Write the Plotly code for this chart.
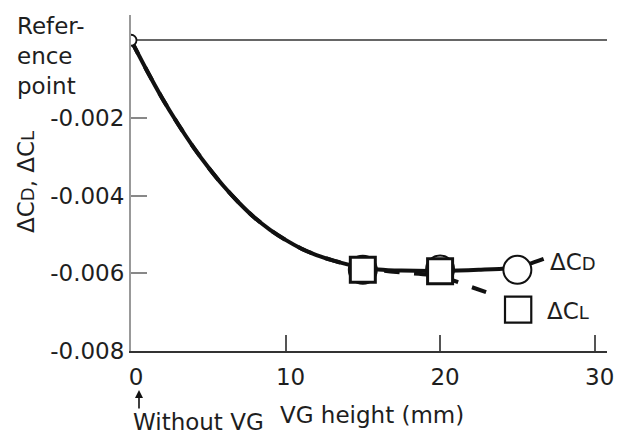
import plotly.graph_objects as go

# ---- data ----
vg_height = [0, 1, 2, 3, 4, 5, 6, 7, 8, 9, 10, 11, 12, 13, 14, 15, 16,
             17.5, 20, 22.5, 25, 26.7]
delta_cd = [0, -0.00076, -0.00148, -0.00213, -0.00273, -0.00327, -0.00376,
            -0.00419, -0.00457, -0.00488, -0.00514, -0.00536, -0.00553,
            -0.00566, -0.00577, -0.00585, -0.0059, -0.00593, -0.00594,
            -0.00591, -0.00585, -0.00563]

vg_height_cl = [0, 1, 2, 3, 4, 5, 6, 7, 8, 9, 10, 11, 12, 13, 14, 15, 16,
                17.5, 20, 21.5, 23.5]
delta_cl = [0, -0.00076, -0.00148, -0.00213, -0.00273, -0.00327, -0.00376,
            -0.00419, -0.00457, -0.00488, -0.00514, -0.00536, -0.00553,
            -0.00566, -0.00577, -0.00586, -0.00592, -0.00598, -0.00607,
            -0.00628, -0.00656]

cd_marker_x = [15, 20, 25]
cd_marker_y = [-0.00591, -0.00590, -0.00591]
cl_marker_x = [15, 20]
cl_marker_y = [-0.00591, -0.00595]
ref_x = [0]
ref_y = [0]

x_ticks = [0, 10, 20, 30]
y_ticks = [-0.008, -0.006, -0.004, -0.002]
y_tick_text = ["-0.008", "-0.006", "-0.004", "-0.002"]

FONT = "DejaVu Sans, Liberation Sans, Arial, sans-serif"
TXT = "#1e1e1e"
FS = 23

# plot area in pixels: left 131, right 607, top 15, bottom 351
L, R, T, B = 131, 607, 15, 351
def px(xp):
    return (xp - L) / (R - L)
def py(yp):
    return (B - yp) / (B - T)

fig = go.Figure()

fig.add_trace(go.Scatter(x=vg_height_cl, y=delta_cl, mode="lines",
                         line=dict(color="#111111", width=4, dash="15px,15px",
                                   shape="spline", smoothing=0.6),
                         hoverinfo="skip"))
fig.add_trace(go.Scatter(x=vg_height, y=delta_cd, mode="lines",
                         line=dict(color="#111111", width=4,
                                   shape="spline", smoothing=0.6),
                         hoverinfo="skip"))
fig.add_trace(go.Scatter(x=cd_marker_x, y=cd_marker_y, mode="markers",
                         marker=dict(symbol="circle", size=28, color="white",
                                     line=dict(color="#111111", width=2))))
fig.add_trace(go.Scatter(x=cl_marker_x, y=cl_marker_y, mode="markers",
                         marker=dict(symbol="square", size=25, color="white",
                                     line=dict(color="#111111", width=3))))
fig.add_trace(go.Scatter(x=ref_x, y=ref_y, mode="markers",
                         marker=dict(symbol="circle", size=11, color="white",
                                     line=dict(color="#111111", width=1.8))))

# legend key square for ΔCL
fig.add_shape(type="rect", xref="x", yref="y",
              x0=24.2, x1=25.9, y0=-0.00727, y1=-0.00660,
              line=dict(color="#111111", width=2.2), fillcolor="white")

sub = "<span style='font-size:18px'>{}</span>"
annos = [
    dict(text="ΔC" + sub.format("D"), x=26.95, y=-0.00571,
         xref="x", yref="y", xanchor="left", yanchor="middle", showarrow=False),
    dict(text="ΔC" + sub.format("L"), x=26.8, y=-0.00697,
         xref="x", yref="y", xanchor="left", yanchor="middle", showarrow=False),
    dict(text="Refer-<br>ence<br>point", x=px(15), y=py(11),
         xref="paper", yref="paper", xanchor="left", yanchor="top",
         align="left", showarrow=False),
    dict(text="VG height (mm)", x=px(372), y=py(415),
         xref="paper", yref="paper", xanchor="center", yanchor="middle",
         showarrow=False),
    dict(text="Without VG", x=px(131), y=py(422),
         xref="paper", yref="paper", xanchor="left", yanchor="middle",
         showarrow=False),
    dict(text="", x=px(139), y=py(390),
         xref="paper", yref="paper", showarrow=True, ax=0, ay=20,
         arrowhead=2, arrowsize=1, arrowwidth=1.6, arrowcolor="#111111"),
    dict(text="ΔC" + sub.format("D") + ", ΔC" + sub.format("L"),
         x=px(26), y=py(182), textangle=-90,
         xref="paper", yref="paper", xanchor="center", yanchor="middle",
         showarrow=False),
]
for a in annos:
    a.setdefault("font", dict(family=FONT, size=FS, color=TXT))
    fig.add_annotation(**a)

fig.update_layout(
    width=620, height=434,
    margin=dict(l=L, r=620 - R, t=T, b=434 - B),
    paper_bgcolor="white", plot_bgcolor="white",
    showlegend=False,
    font=dict(family=FONT, size=FS, color=TXT),
    xaxis=dict(range=[0, 30.8], tickvals=x_ticks, ticks="inside", ticklen=16,
               tickwidth=1.5, tickcolor="#555555", showgrid=False,
               zeroline=False, showline=True, linecolor="#333333", linewidth=2,
               tickfont=dict(family=FONT, size=FS, color=TXT),
               ticklabelshift=5, ticklabelstandoff=4, automargin=False),
    yaxis=dict(range=[-0.008, 0.00065], tickvals=y_ticks, ticktext=y_tick_text,
               ticks="inside", ticklen=16, tickwidth=1.5, tickcolor="#888888",
               showgrid=False, zeroline=True, zerolinecolor="#666666",
               zerolinewidth=1.5, showline=True, linecolor="#999999",
               linewidth=2, tickfont=dict(family=FONT, size=FS, color=TXT),
               ticklabelstandoff=0, automargin=False),
)

fig.write_html("out.html",
               config={"displayModeBar": False},
               post_script="document.body.style.margin='0';"
                           "document.body.style.padding='0';")
